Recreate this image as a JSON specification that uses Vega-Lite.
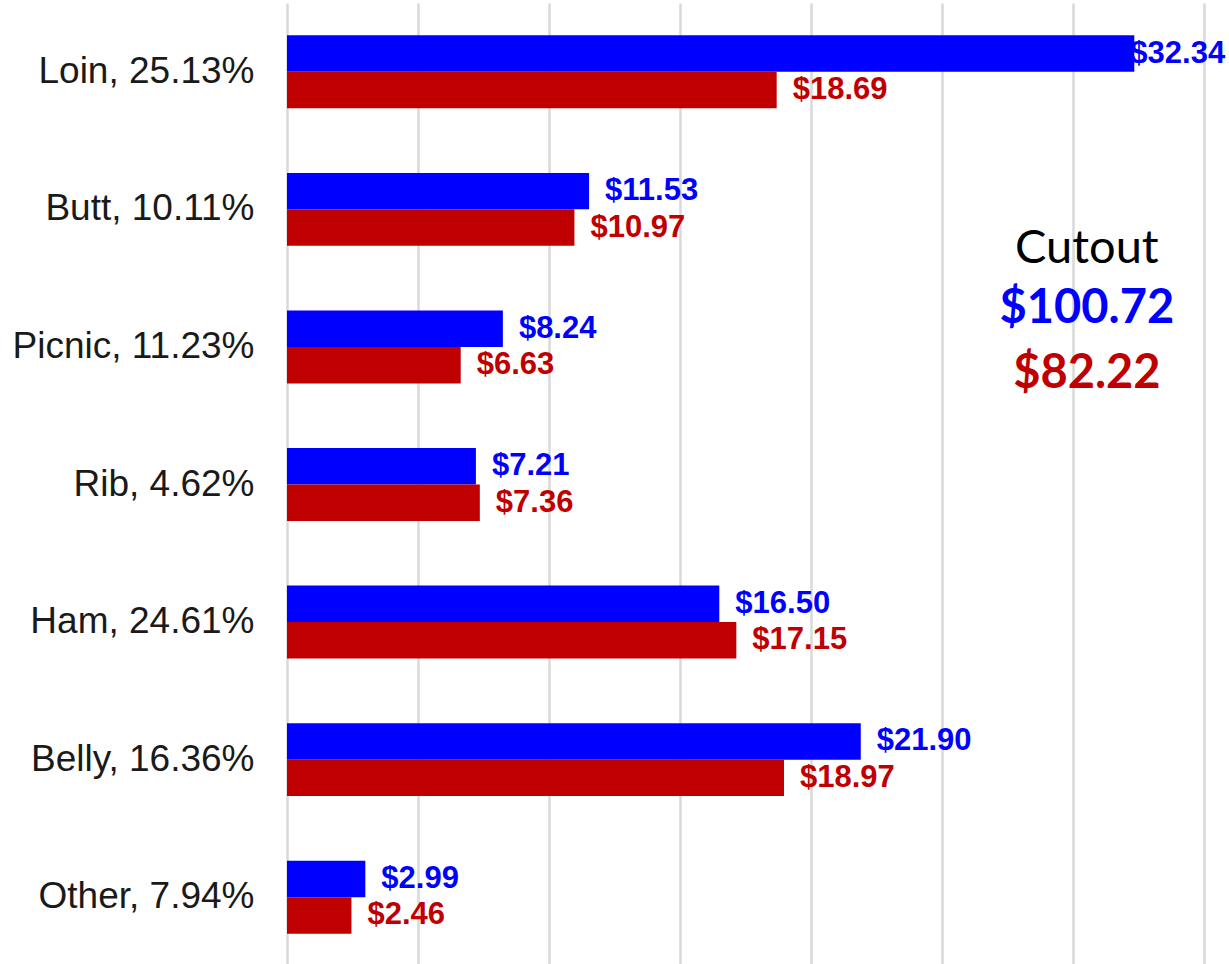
{
  "$schema": "https://vega.github.io/schema/vega-lite/v6.json",
  "width": 917,
  "height": 963,
  "autosize": {"type": "none"},
  "padding": {"left": 287, "top": 3, "right": 25, "bottom": 0},
  "background": "white",
  "config": {"view": {"stroke": null}, "font": "Liberation Sans"},
  "datasets": {
    "cuts": [
      {"cut": "Loin, 25.13%", "series": "Current", "value": 32.34},
      {"cut": "Loin, 25.13%", "series": "Prior", "value": 18.69},
      {"cut": "Butt, 10.11%", "series": "Current", "value": 11.53},
      {"cut": "Butt, 10.11%", "series": "Prior", "value": 10.97},
      {"cut": "Picnic, 11.23%", "series": "Current", "value": 8.24},
      {"cut": "Picnic, 11.23%", "series": "Prior", "value": 6.63},
      {"cut": "Rib, 4.62%", "series": "Current", "value": 7.21},
      {"cut": "Rib, 4.62%", "series": "Prior", "value": 7.36},
      {"cut": "Ham, 24.61%", "series": "Current", "value": 16.50},
      {"cut": "Ham, 24.61%", "series": "Prior", "value": 17.15},
      {"cut": "Belly, 16.36%", "series": "Current", "value": 21.90},
      {"cut": "Belly, 16.36%", "series": "Prior", "value": 18.97},
      {"cut": "Other, 7.94%", "series": "Current", "value": 2.99},
      {"cut": "Other, 7.94%", "series": "Prior", "value": 2.46}
    ]
  },
  "layer": [
    {
      "data": {"name": "cuts"},
      "mark": {"type": "bar"},
      "encoding": {
        "y": {
          "field": "cut", "type": "nominal", "sort": null,
          "scale": {"paddingInner": 0.47, "paddingOuter": 0.235},
          "axis": {"title": null, "domain": false, "ticks": false, "labelFontSize": 37, "labelColor": "#1a1a1a", "labelPadding": 33, "labelFont": "Liberation Sans", "labelLimit": 300}
        },
        "yOffset": {"field": "series", "type": "nominal", "sort": ["Current", "Prior"]},
        "x": {
          "field": "value", "type": "quantitative",
          "scale": {"domain": [0, 35], "nice": false},
          "axis": {"title": null, "values": [0, 5, 10, 15, 20, 25, 30, 35], "labels": false, "ticks": false, "domain": false, "grid": true, "gridColor": "#d9d9d9", "gridWidth": 2.5}
        },
        "color": {"field": "series", "type": "nominal", "scale": {"domain": ["Current", "Prior"], "range": ["#0000ff", "#c00000"]}, "legend": null}
      }
    },
    {
      "data": {"name": "cuts"},
      "transform": [{"filter": "datum.value < 30"}],
      "mark": {"type": "text", "align": "left", "baseline": "middle", "dx": 16, "fontSize": 31, "fontWeight": "bold", "font": "Liberation Sans"},
      "encoding": {
        "y": {"field": "cut", "type": "nominal", "sort": null},
        "yOffset": {"field": "series", "type": "nominal", "sort": ["Current", "Prior"]},
        "x": {"field": "value", "type": "quantitative"},
        "text": {"field": "value", "type": "quantitative", "format": "$.2f"},
        "color": {"field": "series", "type": "nominal"}
      }
    },
    {
      "data": {"name": "cuts"},
      "transform": [{"filter": "datum.value >= 30"}],
      "mark": {"type": "text", "align": "left", "baseline": "middle", "dx": -4, "fontSize": 31, "fontWeight": "bold", "font": "Liberation Sans"},
      "encoding": {
        "y": {"field": "cut", "type": "nominal", "sort": null},
        "yOffset": {"field": "series", "type": "nominal", "sort": ["Current", "Prior"]},
        "x": {"field": "value", "type": "quantitative"},
        "text": {"field": "value", "type": "quantitative", "format": "$.2f"},
        "color": {"field": "series", "type": "nominal"}
      }
    },
    {
      "data": {"values": [{"cut": "Butt, 10.11%", "label": "Cutout"}]},
      "mark": {"type": "text", "align": "center", "baseline": "alphabetic", "dy": 54, "fontSize": 47, "font": "Lato", "color": "#000000"},
      "encoding": {
        "y": {"field": "cut", "type": "nominal", "sort": null},
        "x": {"datum": 30.53},
        "text": {"field": "label"}
      }
    },
    {
      "data": {"values": [{"cut": "Picnic, 11.23%", "label": "$100.72"}]},
      "mark": {"type": "text", "align": "center", "baseline": "alphabetic", "dy": -24, "fontSize": 47, "fontWeight": "bold", "font": "Lato", "color": "#0000ff"},
      "encoding": {
        "y": {"field": "cut", "type": "nominal", "sort": null},
        "x": {"datum": 30.53},
        "text": {"field": "label"}
      }
    },
    {
      "data": {"values": [{"cut": "Picnic, 11.23%", "label": "$82.22"}]},
      "mark": {"type": "text", "align": "center", "baseline": "alphabetic", "dy": 41, "fontSize": 47, "fontWeight": "bold", "font": "Lato", "color": "#c00000"},
      "encoding": {
        "y": {"field": "cut", "type": "nominal", "sort": null},
        "x": {"datum": 30.53},
        "text": {"field": "label"}
      }
    }
  ]
}
